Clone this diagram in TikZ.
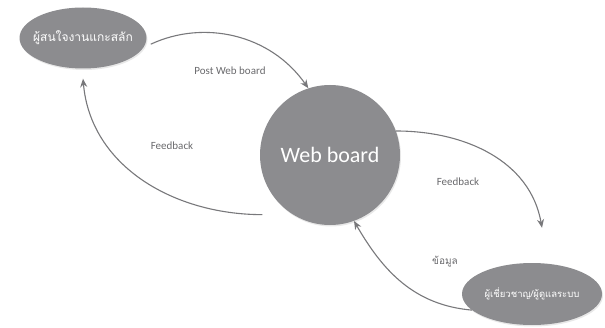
\documentclass[tikz,border=0pt]{standalone}
\usepackage{fontspec}
\setmainfont{Carlito}
\newfontfamily\thaifont[Script=Thai]{Loma}
\usetikzlibrary{shapes.geometric,arrows.meta,shadows}
\definecolor{nodegray}{RGB}{140,140,143}
\definecolor{linegray}{RGB}{120,120,123}
\definecolor{labelgray}{RGB}{105,105,108}

\begin{document}
\begin{tikzpicture}[x=1pt,y=1pt,
  bubble/.style={ellipse,fill=nodegray,text=white,inner sep=0pt,
    drop shadow={opacity=0.18,shadow xshift=1pt,shadow yshift=-1.5pt}},
  flow/.style={draw=linegray,line width=1.1pt,-{Stealth[length=8.5pt,width=7pt]}},
  lbl/.style={text=labelgray,font=\fontsize{11}{13}\selectfont}]
\useasboundingbox (0,0) rectangle (605,327);

\node[bubble,minimum width=127pt,minimum height=61pt,font=\thaifont\fontsize{12}{14}\selectfont] (user) at (83,289) {\makebox[0pt]{ผู้สนใจงานแกะสลัก}};
\node[bubble,circle,minimum size=140pt,font=\fontsize{22}{26}\selectfont] (web) at (330,172) {Web board};
\node[bubble,minimum width=140pt,minimum height=62pt,font=\thaifont\fontsize{9.5}{12}\selectfont] (expert) at (532,33) {\makebox[0pt]{ผู้เชี่ยวชาญ/ผู้ดูแลระบบ}};

\node[lbl] (post) at (230,256) {Post Web board};
\node[lbl] (fbleft) at (172,181) {Feedback};
\node[lbl] (fbright) at (458,145) {Feedback};
\node[lbl,font=\thaifont\fontsize{10}{12}\selectfont] (data) at (445,65) {ข้อมูล};

\draw [flow,shorten <=8pt] (user.-9) to[out=25,in=125] (web.108);
\draw [flow] ([shift={(-18,-10)}]web.south west) to[out=180,in=-85] ([yshift=-10pt]user.south);
\draw [flow] (web.20) to[out=0,in=100] ([shift={(10,35)}]expert.north);
\draw [flow] (expert.195) to[out=175,in=-60] (web.-70);
\end{tikzpicture}
\end{document}
